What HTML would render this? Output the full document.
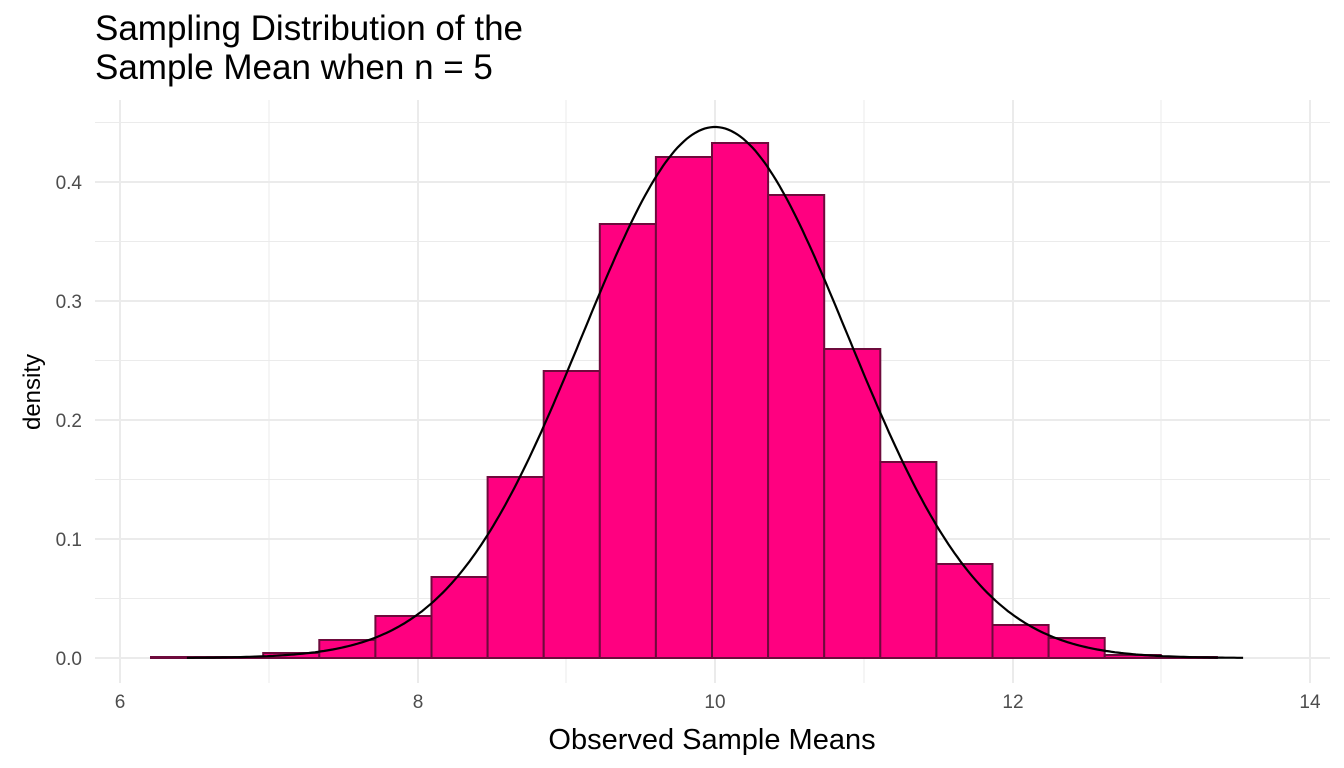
<!DOCTYPE html>
<html><head><meta charset="utf-8"><style>body{margin:0;background:#fff}svg{display:block}</style></head>
<body>
<svg id="s" width="1344" height="768" xmlns="http://www.w3.org/2000/svg" font-family="Liberation Sans, sans-serif">
<g stroke="#ebebeb" stroke-width="1">
<line x1="95" x2="1330" y1="598.5" y2="598.5"/><line x1="95" x2="1330" y1="479.5" y2="479.5"/><line x1="95" x2="1330" y1="360.5" y2="360.5"/><line x1="95" x2="1330" y1="241.5" y2="241.5"/><line x1="95" x2="1330" y1="122.5" y2="122.5"/>
<line x1="269" x2="269" y1="100" y2="683"/><line x1="566" x2="566" y1="100" y2="683"/><line x1="864" x2="864" y1="100" y2="683"/><line x1="1161" x2="1161" y1="100" y2="683"/>
</g>
<g stroke="#ebebeb" stroke-width="2">
<line x1="95" x2="1330" y1="658" y2="658"/><line x1="95" x2="1330" y1="539" y2="539"/><line x1="95" x2="1330" y1="420" y2="420"/><line x1="95" x2="1330" y1="301" y2="301"/><line x1="95" x2="1330" y1="182" y2="182"/>
<line x1="120" x2="120" y1="100" y2="683"/><line x1="418" x2="418" y1="100" y2="683"/><line x1="715" x2="715" y1="100" y2="683"/><line x1="1013" x2="1013" y1="100" y2="683"/><line x1="1310" x2="1310" y1="100" y2="683"/>
</g>
<g id="bars" fill="#ff0080" stroke="#6e0a3c" stroke-width="2"></g>
<path id="curve" fill="none" stroke="#000" stroke-width="2.2"/>
<g fill="#4d4d4d" font-size="19" text-anchor="end">
<text x="82" y="665">0.0</text><text x="82" y="546">0.1</text><text x="82" y="427">0.2</text><text x="82" y="308">0.3</text><text x="82" y="189">0.4</text>
</g>
<g fill="#4d4d4d" font-size="19" text-anchor="middle">
<text x="120" y="708">6</text><text x="418" y="708">8</text><text x="715" y="708">10</text><text x="1013" y="708">12</text><text x="1310" y="708">14</text>
</g>
<text x="712" y="749" text-anchor="middle" font-size="29">Observed Sample Means</text>
<text transform="translate(40,392) rotate(-90)" text-anchor="middle" font-size="24">density</text>
<text x="95" y="40" font-size="35">Sampling Distribution of the</text>
<text x="95" y="79" font-size="35">Sample Mean when n = 5</text>
</svg>
<script>
var tops=[657,657,653,640,616,577,477,371,224,157,143,195,349,462,564,625,638,655,657,658];
var g=document.getElementById('bars'),w=56.1,s='';
for(var i=0;i<20;i++){var x=151+i*w;s+='<rect x="'+x.toFixed(1)+'" y="'+tops[i]+'" width="'+w.toFixed(1)+'" height="'+(658-tops[i])+'"/>';}
g.innerHTML=s;
var sd=0.894,d='';
for(var v=6.45;v<=13.56;v+=0.02){var y=Math.exp(-0.5*Math.pow((v-10)/sd,2))/(sd*Math.sqrt(2*Math.PI));
var px=120+(v-6)*148.75,py=658-y*1190;d+=(d?'L':'M')+px.toFixed(1)+','+py.toFixed(1);}
document.getElementById('curve').setAttribute('d',d);
</script>
</body></html>
